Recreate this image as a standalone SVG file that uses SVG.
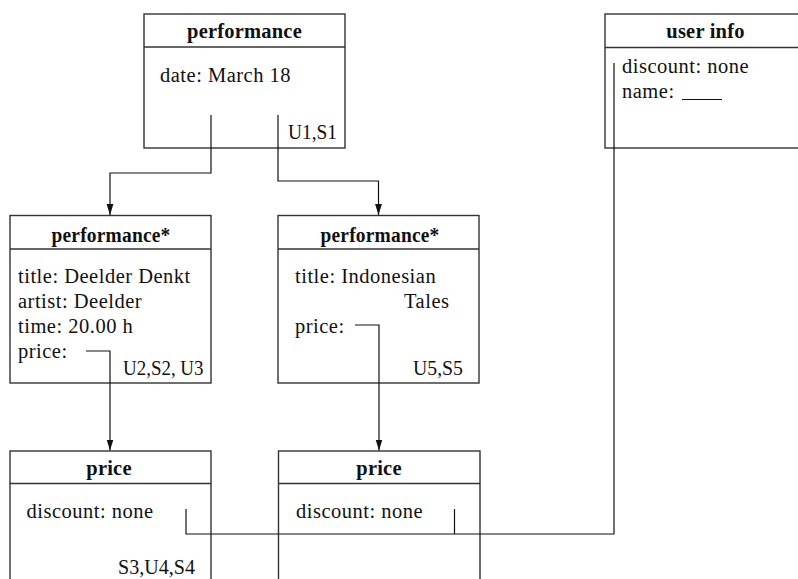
<svg xmlns="http://www.w3.org/2000/svg" width="798" height="579" viewBox="0 0 798 579">
  <style>
    text { font-family: "Liberation Serif", "Times New Roman", serif; font-size: 20.5px; fill: #111; letter-spacing: 0.5px; }
    .hd { font-weight: bold; text-anchor: middle; letter-spacing: 0.2px; }
    .tag { letter-spacing: 0; }
    .box { fill: #fff; stroke: #333; stroke-width: 1.4; }
    .sep { stroke: #333; stroke-width: 1.4; }
    .wire { fill: none; stroke: #111; stroke-width: 1.2; }
  </style>
  <defs>
    <marker id="arrow" markerUnits="userSpaceOnUse" markerWidth="11" markerHeight="12" viewBox="0 0 11 12" refX="11" refY="4" orient="auto">
      <path d="M0,0.6 L11,4 L0,7.4 Z" fill="#111"/>
    </marker>
  </defs>
  <rect width="798" height="579" fill="#fff"/>

  <!-- top: performance -->
  <g id="performance-root">
    <rect class="box" x="144" y="14" width="201" height="134"/>
    <line class="sep" x1="144" y1="47" x2="345" y2="47"/>
    <text class="hd" x="244.5" y="38">performance</text>
    <text x="160" y="82">date: March 18</text>
    <text class="tag" x="288" y="139" textLength="49" lengthAdjust="spacingAndGlyphs">U1,S1</text>
  </g>

  <!-- user info (runs past the right edge) -->
  <g id="user-info">
    <rect class="box" x="605" y="14" width="201" height="134"/>
    <line class="sep" x1="605" y1="47.5" x2="806" y2="47.5"/>
    <text class="hd" x="705.5" y="38">user info</text>
    <text x="622" y="73">discount: none</text>
    <text x="622" y="98">name:</text>
    <line x1="682" y1="99.5" x2="722" y2="99.5" stroke="#111" stroke-width="1.1"/>
  </g>

  <!-- middle left: performance* -->
  <g id="performance-deelder">
    <rect class="box" x="10" y="215.5" width="201" height="167.5"/>
    <line class="sep" x1="10" y1="249" x2="211" y2="249"/>
    <text class="hd" x="111" y="242" textLength="119" lengthAdjust="spacingAndGlyphs">performance*</text>
    <text x="18" y="283">title: Deelder Denkt</text>
    <text x="18" y="308">artist: Deelder</text>
    <text x="18" y="333">time: 20.00 h</text>
    <text x="18" y="358">price:</text>
    <text class="tag" x="123" y="375" textLength="80.5" lengthAdjust="spacingAndGlyphs">U2,S2, U3</text>
  </g>

  <!-- middle right: performance* -->
  <g id="performance-indonesian">
    <rect class="box" x="278" y="215.5" width="201" height="167.5"/>
    <line class="sep" x1="278" y1="249" x2="479" y2="249"/>
    <text class="hd" x="380" y="242" textLength="119" lengthAdjust="spacingAndGlyphs">performance*</text>
    <text x="295" y="283">title: Indonesian</text>
    <text x="404" y="308">Tales</text>
    <text x="295" y="333">price:</text>
    <text class="tag" x="413" y="375" textLength="50" lengthAdjust="spacingAndGlyphs">U5,S5</text>
  </g>

  <!-- bottom left: price -->
  <g id="price-left">
    <rect class="box" x="10" y="451" width="201" height="140"/>
    <line class="sep" x1="10" y1="483.5" x2="211" y2="483.5"/>
    <text class="hd" x="109" y="475">price</text>
    <text x="26.5" y="518">discount: none</text>
    <text class="tag" x="118" y="574" textLength="77" lengthAdjust="spacingAndGlyphs">S3,U4,S4</text>
  </g>

  <!-- bottom right: price -->
  <g id="price-right">
    <rect class="box" x="278.5" y="451" width="201.5" height="140"/>
    <line class="sep" x1="278.5" y1="483.5" x2="480" y2="483.5"/>
    <text class="hd" x="379" y="475">price</text>
    <text x="296" y="518">discount: none</text>
  </g>

  <!-- connectors -->
  <g id="connectors">
    <path class="wire" d="M211,115 V173 H110 V215" marker-end="url(#arrow)"/>
    <path class="wire" d="M278,115 V181 H378.5 V215" marker-end="url(#arrow)"/>
    <path class="wire" d="M86,351 H110 V450.5" marker-end="url(#arrow)"/>
    <path class="wire" d="M355,325 H379 V450.5" marker-end="url(#arrow)"/>
    <path class="wire" d="M186,509 V534 H614 V63"/>
    <path class="wire" d="M454.5,509 V534"/>
  </g>
</svg>
